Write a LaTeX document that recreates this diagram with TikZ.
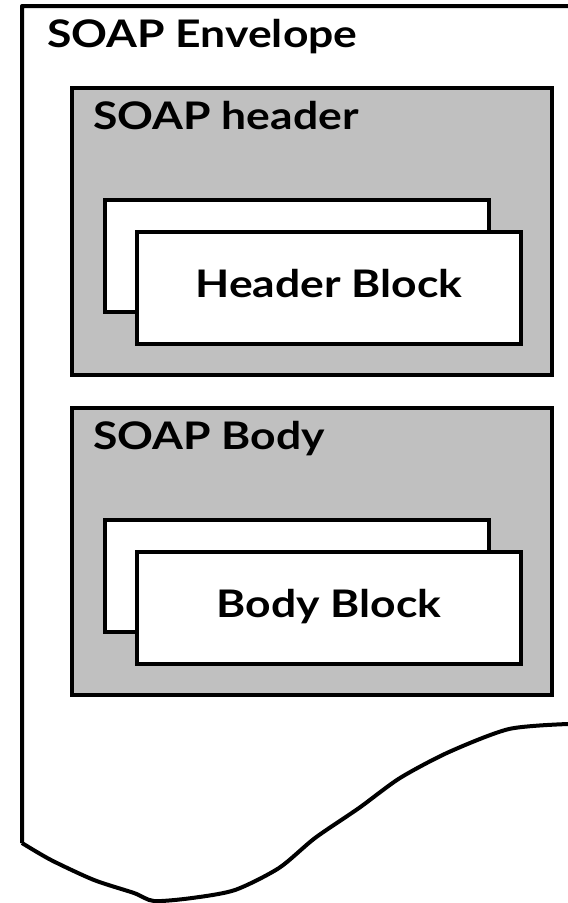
\documentclass[tikz,border=0pt]{standalone}
\usepackage{fontspec}
\setmainfont{Lato}[FakeStretch=1.17]
\usepackage{tikz}
\usetikzlibrary{positioning, calc}

\definecolor{partgray}{HTML}{C0C0C0}

\begin{document}
\begin{tikzpicture}[
  x=1pt, y=-1pt,
  envelope/.style={line width=4pt, line join=round},
  part/.style={draw, line width=4pt, fill=partgray, minimum width=480pt, minimum height=287pt, inner sep=0pt},
  blk/.style={draw, line width=4pt, fill=white, minimum width=384pt, minimum height=112pt, inner sep=0pt,
    font=\fontsize{38}{44}\selectfont\bfseries, text height=29pt, text depth=11pt},
  title/.style={font=\fontsize{38}{44}\selectfont\bfseries, inner sep=0pt}
]
  \useasboundingbox (0,0) rectangle (568,903);
  % Envelope, torn off at the bottom
  \draw[envelope] (568,6) -- (22,6) -- (22,843)
    plot[smooth, tension=0.45] coordinates {
      (22,843) (51,860) (94,880) (134,893) (154,901) (192,898) (235,890)
      (279,868) (315,838) (359,808) (400,778) (449,752) (509,729) (568,724)};
  \node[title, anchor=base west] (envtitle) at (47,47) {SOAP Envelope};
  % Header and body parts
  \foreach \name/\txt/\blktxt/\y in {
    header/SOAP header/Header Block/86,
    body/SOAP Body/Body Block/406
  }{
    \node[part, anchor=north west] (\name) at (70,\y) {};
    \node[title, anchor=base west] (\name-title) at (93,\y+43) {\txt};
    \node[blk, anchor=north west] (\name-back) at (103,\y+112) {};
    \node[blk, anchor=north west] (\name-front) at (135,\y+144) {\blktxt};
  }
\end{tikzpicture}
\end{document}
